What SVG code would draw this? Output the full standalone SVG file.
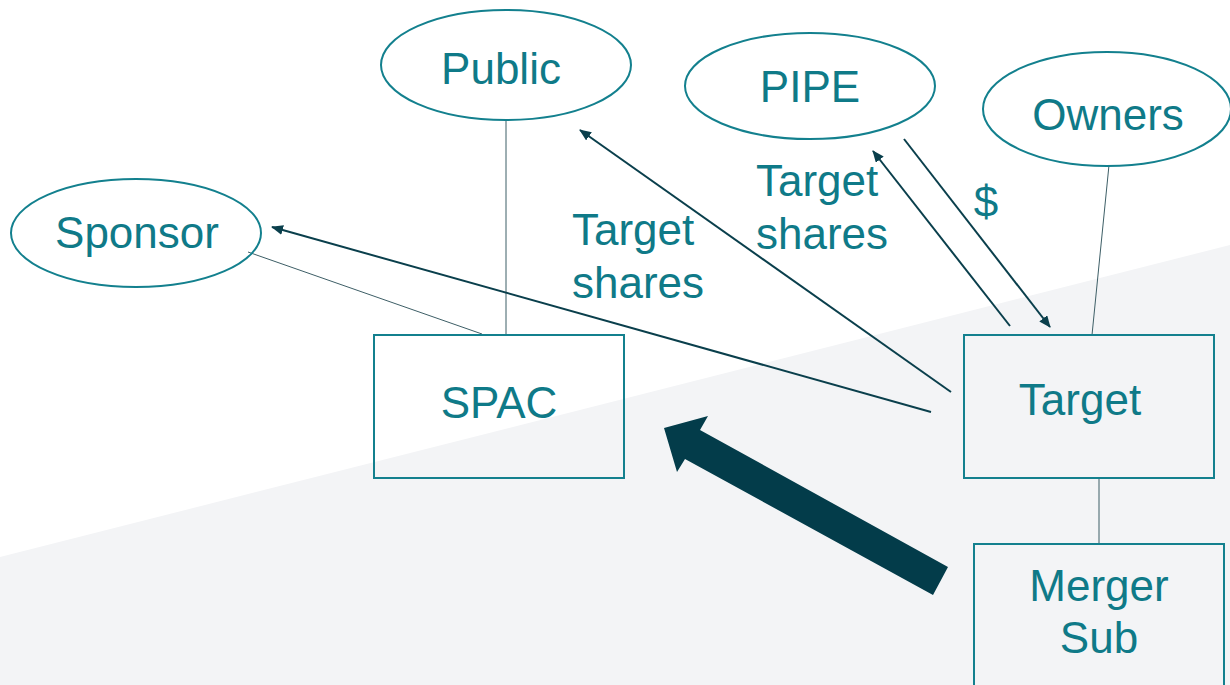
<svg xmlns="http://www.w3.org/2000/svg" width="1230" height="685" viewBox="0 0 1230 685">
<defs>
<style>
.node{fill:none;stroke:#13808e;stroke-width:2}
.lbl{font-family:"Liberation Sans",Arial,sans-serif;font-size:44px;fill:#0f7a88}
.mid{text-anchor:middle}
.ln{stroke:#3d5e66;stroke-width:1;fill:none}
.ar{stroke:#0a3f4c;stroke-width:2;fill:none;marker-end:url(#ah)}
</style>
<marker id="ah" viewBox="0 0 12 10" refX="11" refY="5" markerWidth="12" markerHeight="10" markerUnits="userSpaceOnUse" orient="auto">
<path d="M0,0 L12,5 L0,10 Z" fill="#0a3f4c"/>
</marker>
</defs>
<rect width="1230" height="685" fill="#ffffff"/>
<polygon points="0,557 1230,245 1230,685 0,685" fill="#f3f4f6"/>
<g id="connectors">
<line class="ln" x1="506" y1="120" x2="506" y2="335"/>
<line class="ln" x1="248" y1="252" x2="482" y2="334"/>
<line class="ln" x1="1109" y1="165" x2="1092" y2="335"/>
<line class="ln" x1="1099" y1="478" x2="1099" y2="544"/>
<line class="ar" x1="951" y1="392" x2="580" y2="130"/>
<line class="ar" x1="931" y1="412" x2="272" y2="227"/>
<line class="ar" x1="1010" y1="326" x2="873" y2="151"/>
<line class="ar" x1="904" y1="139" x2="1050" y2="327"/>
<polygon points="664,428 708,416 700,430 948,567 933,595 685,459 677,472" fill="#033c4a"/>
</g>
<g id="label-shares-1">
<text class="lbl" x="572" y="245">Target</text>
<text class="lbl" x="572" y="298">shares</text>
</g>
<g id="label-shares-2">
<text class="lbl" x="756" y="196">Target</text>
<text class="lbl" x="756" y="249">shares</text>
</g>
<g id="label-dollar">
<text class="lbl mid" x="986" y="217">$</text>
</g>
<g id="public">
<ellipse class="node" cx="506" cy="65" rx="125" ry="55"/>
<text class="lbl mid" x="501" y="84">Public</text>
</g>
<g id="pipe">
<ellipse class="node" cx="810" cy="86" rx="125" ry="53"/>
<text class="lbl mid" x="810" y="102">PIPE</text>
</g>
<g id="owners">
<ellipse class="node" cx="1107" cy="109" rx="124" ry="57"/>
<text class="lbl mid" x="1108" y="130">Owners</text>
</g>
<g id="sponsor">
<ellipse class="node" cx="136" cy="233" rx="125" ry="54"/>
<text class="lbl mid" x="137" y="248">Sponsor</text>
</g>
<g id="spac">
<rect class="node" x="374" y="335" width="250" height="143"/>
<text class="lbl mid" x="499" y="418">SPAC</text>
</g>
<g id="target">
<rect class="node" x="964" y="335" width="250" height="143"/>
<text class="lbl mid" x="1080" y="415">Target</text>
</g>
<g id="merger-sub">
<rect class="node" x="974" y="544" width="250" height="150"/>
<text class="lbl mid" x="1099" y="601">Merger</text>
<text class="lbl mid" x="1099" y="653">Sub</text>
</g>
</svg>
